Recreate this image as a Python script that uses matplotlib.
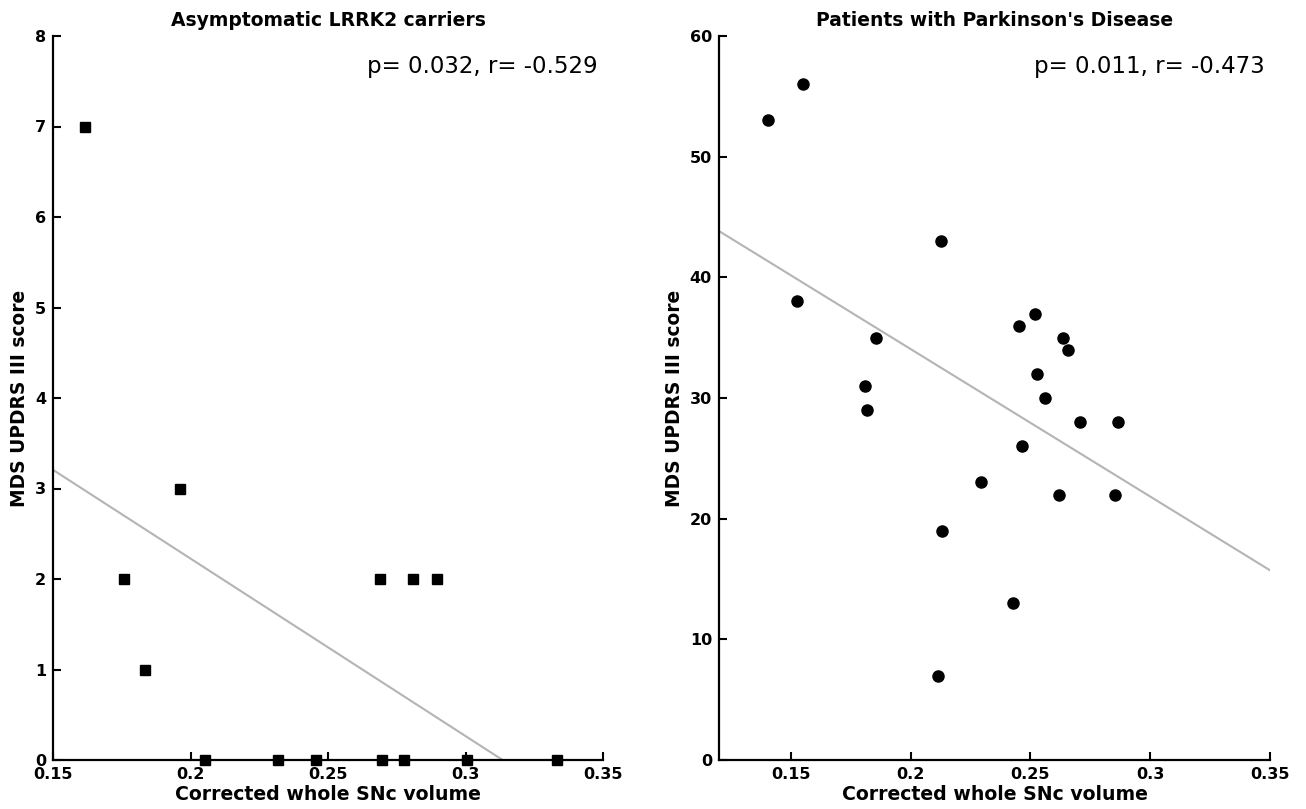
import numpy as np
import matplotlib
matplotlib.use("Agg")
import matplotlib.pyplot as plt

# asymptomatic LRRK2 carriers
carrier_vol = [0.1618, 0.1757, 0.1835, 0.1960, 0.2054, 0.2318, 0.2455,
               0.2690, 0.2695, 0.2775, 0.2810, 0.2897, 0.3004, 0.3333]
carrier_score = [7, 2, 1, 3, 0, 0, 0, 2, 0, 0, 2, 2, 0, 0]

# patients with Parkinson's disease
pd_vol = [0.1404, 0.1551, 0.1524, 0.1856, 0.1808, 0.1818, 0.2126, 0.2129,
          0.2115, 0.2294, 0.2518, 0.2451, 0.2636, 0.2658, 0.2529, 0.2561,
          0.2706, 0.2865, 0.2463, 0.2619, 0.2851, 0.2428]
pd_score = [53, 56, 38, 35, 31, 29, 43, 19, 7, 23, 37, 36, 35, 34, 32, 30,
            28, 28, 26, 22, 22, 13]

titles = ["Asymptomatic LRRK2 carriers", "Patients with Parkinson's Disease"]
stats_txt = ["p= 0.032, r= -0.529", "p= 0.011, r= -0.473"]


def style_axes(ax):
    for s in ["top", "right"]:
        ax.spines[s].set_visible(False)
    for s in ["left", "bottom"]:
        ax.spines[s].set_linewidth(1.6)
    ax.tick_params(direction="in", length=6, width=1.5, labelsize=11.5, pad=5)
    for lab in ax.get_xticklabels() + ax.get_yticklabels():
        lab.set_fontweight("bold")


def panel(ax, x, y, marker, ms, xlim, ylim, xticks, yticks, title, txt):
    x = np.array(x)
    y = np.array(y)
    k, b = np.polyfit(x, y, 1)
    xl = np.array(xlim)
    ax.plot(xl, k * xl + b, color="#b4b4b4", lw=1.5, zorder=1)
    ax.plot(x, y, marker, color="black", ms=ms, ls="none", clip_on=False, zorder=3)
    ax.set_xlim(xlim)
    ax.set_ylim(ylim)
    ax.set_xticks(xticks)
    ax.set_xticklabels([f"{t:g}" for t in xticks])
    ax.set_yticks(yticks)
    ax.set_title(title, fontsize=13.5, fontweight="bold", pad=7)
    ax.set_xlabel("Corrected whole SNc volume", fontsize=13.6, fontweight="bold", labelpad=2)
    ax.set_ylabel("MDS UPDRS III score", fontsize=13.4, fontweight="bold", labelpad=4)
    ax.text(0.99, 0.958, txt, transform=ax.transAxes, ha="right", va="center", fontsize=16.5)
    style_axes(ax)


fig = plt.figure(figsize=(13.06, 8.09), dpi=100)
ax1 = fig.add_axes([53 / 1306, 1 - 760 / 809, 550 / 1306, 724 / 809])
ax2 = fig.add_axes([719 / 1306, 1 - 760 / 809, 551 / 1306, 724 / 809])

panel(ax1, carrier_vol, carrier_score, "s", 6.5, (0.15, 0.35), (0, 8),
      [0.15, 0.2, 0.25, 0.3, 0.35], range(0, 9), titles[0], stats_txt[0])
panel(ax2, pd_vol, pd_score, "o", 8, (0.12, 0.35), (0, 60),
      [0.15, 0.2, 0.25, 0.3, 0.35], range(0, 61, 10), titles[1], stats_txt[1])

fig.savefig("out.png", dpi=100)
